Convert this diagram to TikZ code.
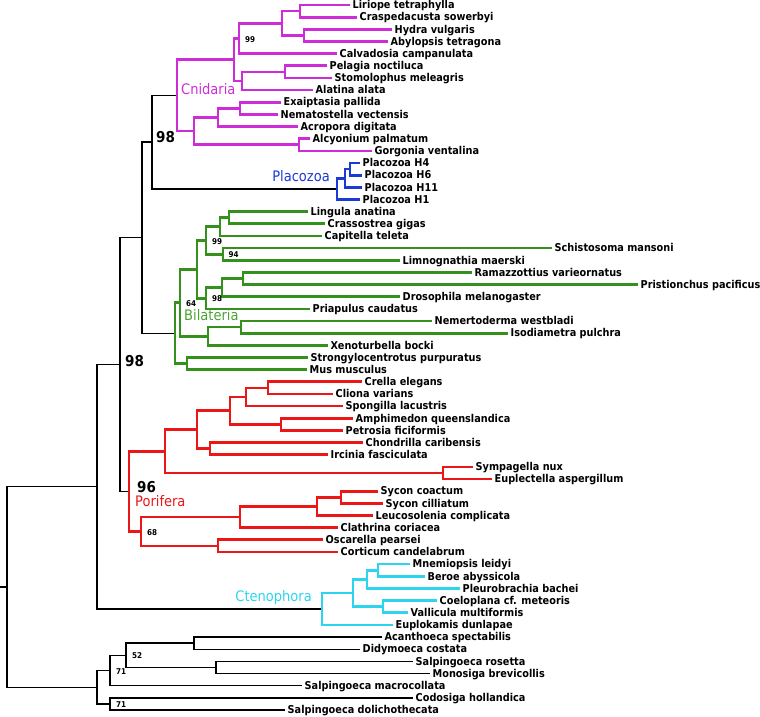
\documentclass[tikz,border=0pt]{standalone}
\usepackage{fontspec}
\setmainfont{DejaVu Sans Condensed}[BoldFont={DejaVu Sans Condensed Bold}]
\usetikzlibrary{positioning}
\definecolor{cnidcol}{RGB}{206,44,214}
\definecolor{placcol}{RGB}{28,58,212}
\definecolor{bilacol}{RGB}{52,146,28}
\definecolor{bilatxt}{RGB}{76,162,52}
\definecolor{poricol}{RGB}{236,22,22}
\definecolor{ctencol}{RGB}{44,212,240}
\begin{document}
\begin{tikzpicture}[x=1pt, y=-12.155pt,
    leaf/.style={anchor=west, inner xsep=2.5pt, inner ysep=0pt, text height=0.75em, text depth=0pt, font=\bfseries\fontsize{10.8}{12}\selectfont},
    br/.style={line width=1.35pt, black},
    cnid/.style={line width=2.7pt, cnidcol},
    plac/.style={line width=2.7pt, placcol},
    bila/.style={line width=2.7pt, bilacol},
    pori/.style={line width=2.7pt, poricol},
    cten/.style={line width=2.7pt, ctencol},
    supp/.style={inner sep=0pt, text height=0.73em, text depth=0pt, font=\bfseries\fontsize{8}{9}\selectfont},
    bigsupp/.style={inner sep=0pt, text height=0.73em, text depth=0pt, font=\bfseries\fontsize{15}{16}\selectfont},
    clade/.style={inner sep=0pt, text height=0.73em, text depth=0pt, font=\fontsize{14.5}{16}\selectfont}]
\useasboundingbox (0pt,0pt) rectangle (760pt,-716pt);
\begin{scope}[yshift=-5pt]
\node[leaf] (lir) at (350,0) {Liriope tetraphylla};
\node[leaf] (cra) at (357,1) {Craspedacusta sowerbyi};
\node[leaf] (hyd) at (392,2) {Hydra vulgaris};
\node[leaf] (aby) at (388,3) {Abylopsis tetragona};
\node[leaf] (cal) at (337,4) {Calvadosia campanulata};
\node[leaf] (pel) at (327,5) {Pelagia noctiluca};
\node[leaf] (sto) at (332,6) {Stomolophus meleagris};
\node[leaf] (ala) at (313,7) {Alatina alata};
\node[leaf] (exa) at (281,8) {Exaiptasia pallida};
\node[leaf] (nem) at (278,9) {Nematostella vectensis};
\node[leaf] (acr) at (298,10) {Acropora digitata};
\node[leaf] (alc) at (310,11) {Alcyonium palmatum};
\node[leaf] (gor) at (372,12) {Gorgonia ventalina};
\node[leaf] (ph4) at (360,13) {Placozoa H4};
\node[leaf] (ph6) at (362,14) {Placozoa H6};
\node[leaf] (ph11) at (362,15) {Placozoa H11};
\node[leaf] (ph1) at (360,16) {Placozoa H1};
\node[leaf] (lin) at (308,17) {Lingula anatina};
\node[leaf] (cras) at (325,18) {Crassostrea gigas};
\node[leaf] (cap) at (322,19) {Capitella teleta};
\node[leaf] (sch) at (552,20) {Schistosoma mansoni};
\node[leaf] (lim) at (400,21) {Limnognathia maerski};
\node[leaf] (ram) at (472,22) {Ramazzottius varieornatus};
\node[leaf] (pri) at (638,23) {Pristionchus pacificus};
\node[leaf] (dro) at (400,24) {Drosophila melanogaster};
\node[leaf] (pria) at (310,25) {Priapulus caudatus};
\node[leaf] (nemw) at (432,26) {Nemertoderma westbladi};
\node[leaf] (iso) at (508,27) {Isodiametra pulchra};
\node[leaf] (xen) at (328,28) {Xenoturbella bocki};
\node[leaf] (str) at (308,29) {Strongylocentrotus purpuratus};
\node[leaf] (mus) at (307,30) {Mus musculus};
\node[leaf] (cre) at (362,31) {Crella elegans};
\node[leaf] (cli) at (333,32) {Cliona varians};
\node[leaf] (spo) at (343,33) {Spongilla lacustris};
\node[leaf] (amp) at (353,34) {Amphimedon queenslandica};
\node[leaf] (pet) at (343,35) {Petrosia ficiformis};
\node[leaf] (cho) at (363,36) {Chondrilla caribensis};
\node[leaf] (irc) at (328,37) {Ircinia fasciculata};
\node[leaf] (sym) at (473,38) {Sympagella nux};
\node[leaf] (eup) at (492,39) {Euplectella aspergillum};
\node[leaf] (syc) at (378,40) {Sycon coactum};
\node[leaf] (sycc) at (383,41) {Sycon cilliatum};
\node[leaf] (leu) at (373,42) {Leucosolenia complicata};
\node[leaf] (cla) at (338,43) {Clathrina coriacea};
\node[leaf] (osc) at (323,44) {Oscarella pearsei};
\node[leaf] (cor) at (338,45) {Corticum candelabrum};
\node[leaf] (mne) at (410,46) {Mnemiopsis leidyi};
\node[leaf] (ber) at (425,47) {Beroe abyssicola};
\node[leaf] (ple) at (460,48) {Pleurobrachia bachei};
\node[leaf] (coe) at (437,49) {Coeloplana cf. meteoris};
\node[leaf] (val) at (408,50) {Vallicula multiformis};
\node[leaf] (eupl) at (393,51) {Euplokamis dunlapae};
\node[leaf] (aca) at (382,52) {Acanthoeca spectabilis};
\node[leaf] (did) at (360,53) {Didymoeca costata};
\node[leaf] (sro) at (413,54) {Salpingoeca rosetta};
\node[leaf] (mon) at (430,55) {Monosiga brevicollis};
\node[leaf] (mac) at (302,56) {Salpingoeca macrocollata};
\node[leaf] (cod) at (413,57) {Codosiga hollandica};
\node[leaf] (sdo) at (285,58) {Salpingoeca dolichothecata};

\coordinate (nLC) at (300,0.5);
\coordinate (nHA) at (304,2.5);
\coordinate (nHyd) at (282,1.5);
\coordinate (n99c) at (239,2.75);
\coordinate (nPS) at (285,5.5);
\coordinate (nScy) at (242,6.25);
\coordinate (nMed) at (234,4.5);
\coordinate (nEN) at (240,8.5);
\coordinate (nHex) at (218,9.25);
\coordinate (nAG) at (299,11.5);
\coordinate (nAnt) at (194,10.375);
\coordinate (nCni) at (177,7.4375);
\coordinate (nH46) at (350,13.5);
\coordinate (nH11) at (345,14.25);
\coordinate (nPla) at (337,15.125);
\coordinate (nCP) at (152,11.28125);
\coordinate (nLCr) at (229,17.5);
\coordinate (nLop) at (220,18.25);
\coordinate (n94) at (223,20.5);
\coordinate (n99b) at (206,19.375);
\coordinate (nRP) at (243,22.5);
\coordinate (n98b) at (222,23.25);
\coordinate (nEcd) at (206,24.125);
\coordinate (nPro) at (197,21.75);
\coordinate (nNI) at (241,26.5);
\coordinate (nXA) at (208,27.25);
\coordinate (n64) at (180,24.5);
\coordinate (nSM) at (187,29.5);
\coordinate (nBil) at (175,27);
\coordinate (nPB) at (142,19.140625);
\coordinate (nCC) at (268,31.5);
\coordinate (nCS) at (246,32.25);
\coordinate (nAP) at (281,34.5);
\coordinate (nHap) at (230,33.375);
\coordinate (nChI) at (210,36.5);
\coordinate (nDem) at (197,34.9375);
\coordinate (nSE) at (443,38.5);
\coordinate (nDH) at (165,36.71875);
\coordinate (nSy) at (341,40.5);
\coordinate (nSL) at (317,41.25);
\coordinate (nCal) at (240,42.125);
\coordinate (nOC) at (218,44.5);
\coordinate (n68) at (141,43.3125);
\coordinate (nPor) at (129,40.015625);
\coordinate (n98a) at (120,29.578125);
\coordinate (nMB) at (378,46.5);
\coordinate (nMBP) at (367,47.25);
\coordinate (nCV) at (383,49.5);
\coordinate (nCt1) at (353,48.375);
\coordinate (nCte) at (322,49.6875);
\coordinate (nMet) at (97,39.6328);
\coordinate (nAD) at (194,52.5);
\coordinate (nRM) at (216,54.5);
\coordinate (n52) at (126,53.5);
\coordinate (n71a) at (110,54.75);
\coordinate (n71b) at (110,57.5);
\coordinate (nCho) at (97,56.125);
\coordinate (nRoot) at (7,47.879);
\coordinate (rootstub) at (0,47.879);

\draw[br] (nCni) -| (nCP) |- (nPla);
\draw[br] (nCP) -| (nPB) |- (nBil);
\draw[br] (nPB) -| (n98a) |- (nPor);
\draw[br] (n98a) -| (nMet) |- (nCte);
\draw[br] (aca.west) -| (nAD) |- (did.west);
\draw[br] (sro.west) -| (nRM) |- (mon.west);
\draw[br] (nAD) -| (n52) |- (nRM);
\draw[br] (n52) -| (n71a) |- (mac.west);
\draw[br] (cod.west) -| (n71b) |- (sdo.west);
\draw[br] (n71a) -| (nCho) |- (n71b);
\draw[br] (nMet) -| (nRoot) |- (nCho);
\draw[br] (rootstub) -- (nRoot);

\draw[cnid] (lir.west) -| (nLC) |- (cra.west);
\draw[cnid] (hyd.west) -| (nHA) |- (aby.west);
\draw[cnid] (nLC) -| (nHyd) |- (nHA);
\draw[cnid] (nHyd) -| (n99c) |- (cal.west);
\draw[cnid] (pel.west) -| (nPS) |- (sto.west);
\draw[cnid] (nPS) -| (nScy) |- (ala.west);
\draw[cnid] (n99c) -| (nMed) |- (nScy);
\draw[cnid] (exa.west) -| (nEN) |- (nem.west);
\draw[cnid] (nEN) -| (nHex) |- (acr.west);
\draw[cnid] (alc.west) -| (nAG) |- (gor.west);
\draw[cnid] (nHex) -| (nAnt) |- (nAG);
\draw[cnid] (nMed) -| (nCni) |- (nAnt);

\draw[plac] (ph4.west) -| (nH46) |- (ph6.west);
\draw[plac] (nH46) -| (nH11) |- (ph11.west);
\draw[plac] (nH11) -| (nPla) |- (ph1.west);

\draw[bila] (lin.west) -| (nLCr) |- (cras.west);
\draw[bila] (nLCr) -| (nLop) |- (cap.west);
\draw[bila] (sch.west) -| (n94) |- (lim.west);
\draw[bila] (nLop) -| (n99b) |- (n94);
\draw[bila] (ram.west) -| (nRP) |- (pri.west);
\draw[bila] (nRP) -| (n98b) |- (dro.west);
\draw[bila] (n98b) -| (nEcd) |- (pria.west);
\draw[bila] (n99b) -| (nPro) |- (nEcd);
\draw[bila] (nemw.west) -| (nNI) |- (iso.west);
\draw[bila] (nNI) -| (nXA) |- (xen.west);
\draw[bila] (nPro) -| (n64) |- (nXA);
\draw[bila] (str.west) -| (nSM) |- (mus.west);
\draw[bila] (n64) -| (nBil) |- (nSM);

\draw[pori] (cre.west) -| (nCC) |- (cli.west);
\draw[pori] (nCC) -| (nCS) |- (spo.west);
\draw[pori] (amp.west) -| (nAP) |- (pet.west);
\draw[pori] (nCS) -| (nHap) |- (nAP);
\draw[pori] (cho.west) -| (nChI) |- (irc.west);
\draw[pori] (nHap) -| (nDem) |- (nChI);
\draw[pori] (sym.west) -| (nSE) |- (eup.west);
\draw[pori] (nDem) -| (nDH) |- (nSE);
\draw[pori] (syc.west) -| (nSy) |- (sycc.west);
\draw[pori] (nSy) -| (nSL) |- (leu.west);
\draw[pori] (nSL) -| (nCal) |- (cla.west);
\draw[pori] (osc.west) -| (nOC) |- (cor.west);
\draw[pori] (nCal) -| (n68) |- (nOC);
\draw[pori] (nDH) -| (nPor) |- (n68);

\draw[cten] (mne.west) -| (nMB) |- (ber.west);
\draw[cten] (nMB) -| (nMBP) |- (ple.west);
\draw[cten] (coe.west) -| (nCV) |- (val.west);
\draw[cten] (nMBP) -| (nCt1) |- (nCV);
\draw[cten] (nCt1) -| (nCte) |- (eupl.west);

\node[supp, right=6pt of n99c] (s99c) {99};
\node[supp, right=6pt of n99b] (s99b) {99};
\node[supp, right=5.5pt of n94] (s94) {94};
\node[supp, right=6pt of nEcd] (s98b) {98};
\node[supp, right=6pt of n64] (s64) {64};
\node[supp, right=6pt of n68] (s68) {68};
\node[supp, right=6pt of n52] (s52) {52};
\node[supp, right=6pt of n71a] (s71a) {71};
\node[supp, right=6pt of n71b] (s71b) {71};
\node[bigsupp, right=4pt of nCP, yshift=3pt] (s98c) {98};
\node[bigsupp, right=5pt of n98a, yshift=1.5pt] (s98a) {98};
\node[bigsupp, right=8pt of nPor, yshift=2.5pt] (s96) {96};

\node[clade, text=cnidcol, right=4pt of nCni, yshift=4.4pt] (lCni) {Cnidaria};
\node[clade, text=placcol, left=7pt of nPla, yshift=10.8pt] (lPla) {Placozoa};
\node[clade, text=bilatxt, right=9pt of nBil, yshift=16pt] (lBil) {Bilateria};
\node[clade, text=poricol, right=6pt of nPor, yshift=-11.6pt] (lPor) {Porifera};
\node[clade, text=ctencol, left=10pt of nCte, yshift=11pt] (lCte) {Ctenophora};
\end{scope}
\end{tikzpicture}
\end{document}
